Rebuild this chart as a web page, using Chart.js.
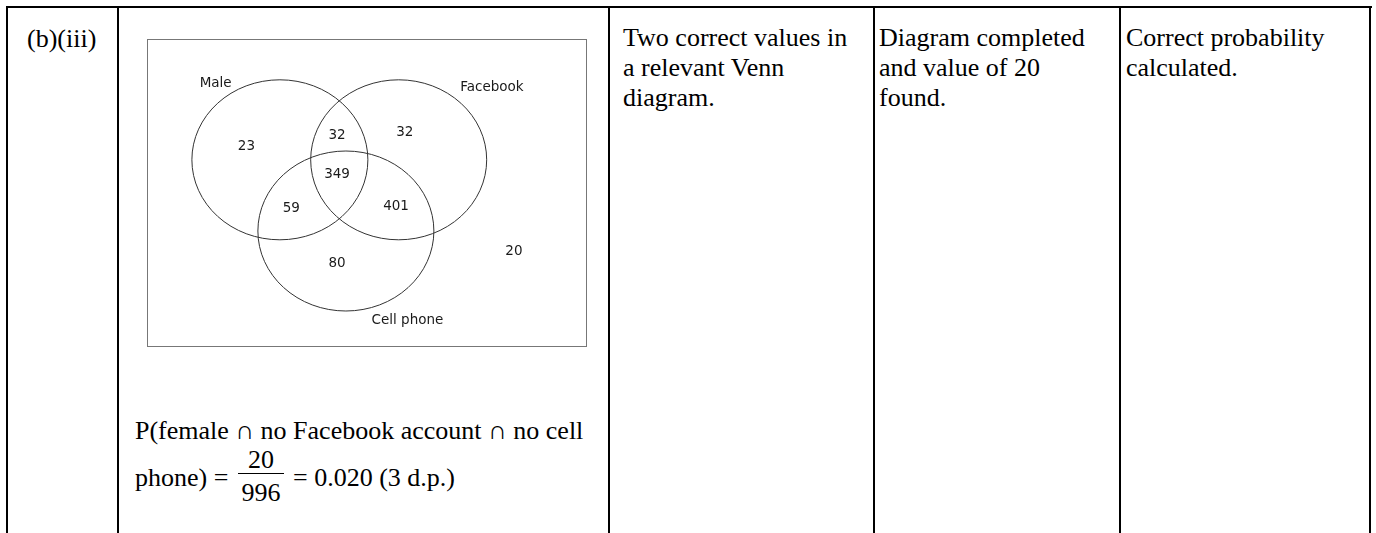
<!DOCTYPE html>
<html>
<head>
<meta charset="utf-8">
<script src="https://cdn.jsdelivr.net/npm/chart.js@4.4.1/dist/chart.umd.min.js"></script>
<style>
  html, body { margin: 0; padding: 0; background: #fff; overflow: hidden; }
  body { width: 1376px; height: 533px; position: relative; font-family: "Liberation Serif", "Times New Roman", serif; color: #000; }
  .rule { position: absolute; background: #000; }
  .cell { position: absolute; font-size: 26px; line-height: 30px; white-space: nowrap; }
  .frac { position: absolute; font-size: 26px; text-align: center; }
  .frac .num { display: block; border-bottom: 1px solid #000; line-height: 26px; height: 26px; }
  .frac .den { display: block; line-height: 26px; padding-top: 6px; }
  #vennBox { position: absolute; left: 147px; top: 39px; width: 440px; height: 308px; }
</style>
</head>
<body>
  <!-- table lines -->
  <div class="rule" style="left:6px; top:6px; width:1366px; height:2px;"></div>
  <div class="rule" style="left:6px; top:6px; width:2px; height:540px;"></div>
  <div class="rule" style="left:117px; top:6px; width:2px; height:540px;"></div>
  <div class="rule" style="left:608px; top:6px; width:2px; height:540px;"></div>
  <div class="rule" style="left:873px; top:6px; width:2px; height:540px;"></div>
  <div class="rule" style="left:1119px; top:6px; width:2px; height:540px;"></div>
  <div class="rule" style="left:1369px; top:6px; width:2px; height:540px;"></div>

  <div class="cell" style="left:27px; top:24px;">(b)(iii)</div>
  <div class="cell" style="left:623px; top:23px;">Two correct values in<br>a relevant Venn<br>diagram.</div>
  <div class="cell" style="left:879px; top:23px;">Diagram completed<br>and value of 20<br>found.</div>
  <div class="cell" style="left:1126px; top:23px;">Correct probability<br>calculated.</div>

  <div id="vennBox"><canvas id="vennChart" width="440" height="308"></canvas></div>

  <div class="cell" style="left:135px; top:416px;">P(female ∩ no Facebook account ∩ no cell</div>
  <div class="cell" style="left:135px; top:463px;">phone) =</div>
  <div class="frac" style="left:238px; top:447px; width:46px;">
    <span class="num" id="fracNum"></span><span class="den" id="fracDen"></span>
  </div>
  <div class="cell" style="left:293px; top:463px;" id="probText"></div>

<script>
// Venn diagram data
const setNames = ["Male", "Facebook", "Cell phone"];
const regionNames = [
  "Male only",
  "Male ∩ Facebook",
  "Facebook only",
  "Male ∩ Facebook ∩ Cell phone",
  "Male ∩ Cell phone",
  "Facebook ∩ Cell phone",
  "Cell phone only",
  "None",
];
const regionCounts = [23, 32, 32, 349, 59, 401, 80, 20];

// Layout (data units: one unit = one circle radius)
const circleRadius = 1;
const circleCentres = [
  { x: 1.51, y: 2.34 },
  { x: 2.86, y: 2.34 },
  { x: 2.26, y: 1.45 },
];
const setLabelSpots = [
  { x: 0.78, y: 3.3 },
  { x: 3.92, y: 3.24 },
  { x: 2.96, y: 0.33 },
];
const regionSpots = [
  { x: 1.13, y: 2.51 },
  { x: 2.16, y: 2.65 },
  { x: 2.93, y: 2.68 },
  { x: 2.16, y: 2.16 },
  { x: 1.64, y: 1.73 },
  { x: 2.83, y: 1.76 },
  { x: 2.16, y: 1.04 },
  { x: 4.17, y: 1.19 },
];

// Probability line under the diagram
const total = regionCounts.reduce((a, b) => a + b, 0);
const neither = regionCounts[regionCounts.length - 1];
document.getElementById("fracNum").innerText = neither;
document.getElementById("fracDen").innerText = total;
document.getElementById("probText").innerText =
  "= " + (neither / total).toFixed(3) + " (3 d.p.)";

// Draws box, circles and texts from the scatter points
const vennPlugin = {
  id: "venn",
  afterDatasetsDraw(chart) {
    const { ctx, chartArea: a, scales } = chart;
    const x = scales.x;
    const y = scales.y;
    ctx.save();

    ctx.strokeStyle = "#777";
    ctx.lineWidth = 1;
    ctx.strokeRect(a.left + 0.5, a.top + 0.5, a.width - 1, a.height - 1);

    ctx.strokeStyle = "#333";
    chart.getDatasetMeta(0).data.forEach((pt, i) => {
      const c = circleCentres[i];
      const rx = x.getPixelForValue(c.x + circleRadius) - pt.x;
      const ry = pt.y - y.getPixelForValue(c.y + circleRadius);
      ctx.beginPath();
      ctx.ellipse(pt.x, pt.y, rx, ry, 0, 0, Math.PI * 2);
      ctx.stroke();
    });

    ctx.fillStyle = "#1a1a1a";
    ctx.font = "13.5px 'DejaVu Sans'";
    ctx.textAlign = "center";
    ctx.textBaseline = "middle";
    chart.getDatasetMeta(1).data.forEach((pt, i) => {
      ctx.fillText(setNames[i], pt.x, pt.y);
    });
    chart.getDatasetMeta(2).data.forEach((pt, i) => {
      ctx.fillText(String(regionCounts[i]), pt.x, pt.y);
    });
    ctx.restore();
  },
};

new Chart(document.getElementById("vennChart").getContext("2d"), {
  type: "scatter",
  data: {
    datasets: [
      { label: "Sets", data: circleCentres, pointRadius: 0 },
      { label: "Set names", data: setLabelSpots, pointRadius: 0 },
      { label: "Regions", data: regionSpots, pointRadius: 0 },
    ],
  },
  options: {
    responsive: false,
    animation: false,
    events: [],
    layout: { padding: 0 },
    plugins: { legend: { display: false }, tooltip: { enabled: false } },
    scales: {
      x: { type: "linear", min: 0, max: 5, display: false },
      y: { type: "linear", min: 0, max: 3.85, display: false },
    },
  },
  plugins: [vennPlugin],
});
</script>
</body>
</html>
